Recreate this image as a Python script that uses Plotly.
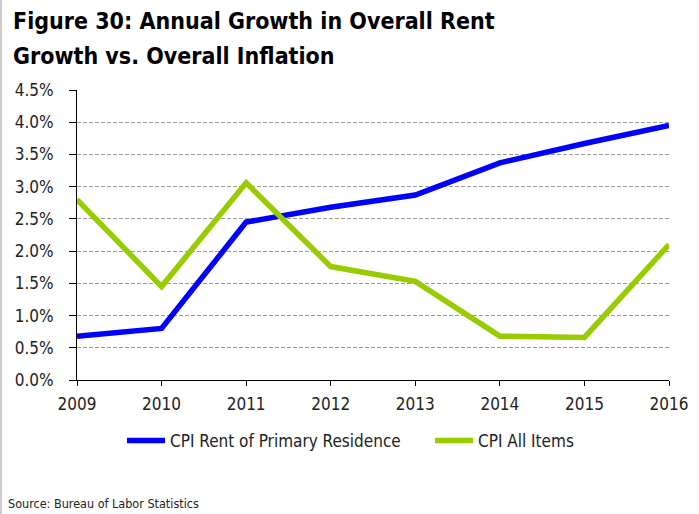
import plotly.graph_objects as go

years = [2009, 2010, 2011, 2012, 2013, 2014, 2015, 2016]
rent = [0.68, 0.80, 2.45, 2.68, 2.87, 3.37, 3.67, 3.95]
all_items = [2.80, 1.45, 3.06, 1.76, 1.53, 0.68, 0.66, 2.10]
y_ticks = [0, 0.5, 1.0, 1.5, 2.0, 2.5, 3.0, 3.5, 4.0, 4.5]
y_labels = ["0.0%", "0.5%", "1.0%", "1.5%", "2.0%", "2.5%", "3.0%", "3.5%", "4.0%", "4.5%"]
title_lines = ["Figure 30: Annual Growth in Overall Rent", "Growth vs. Overall Inflation"]
source = "Source: Bureau of Labor Statistics"

FONT = "DejaVu Sans Condensed, sans-serif"
TXT = "#222222"

# plot area in page pixels: x 77..669, y 90..380
L, R, T, B = 77, 669, 90, 380
W, H = 699, 514
def px(x):
    return (x - L) / (R - L)
def py(y):
    return (B - y) / (B - T)

fig = go.Figure()
fig.add_trace(go.Scatter(x=years, y=rent, mode="lines", name="CPI Rent of Primary Residence",
                         line=dict(color="#0000FF", width=5.5), legend="legend"))
fig.add_trace(go.Scatter(x=years, y=all_items, mode="lines", name="CPI All Items",
                         line=dict(color="#99CC00", width=5.5), legend="legend2"))

leg_common = dict(orientation="h", yanchor="middle", y=py(441), xanchor="left",
                  font=dict(family=FONT, size=17, color=TXT), itemwidth=38,
                  bgcolor="rgba(0,0,0,0)")

fig.update_layout(
    width=W, height=H,
    margin=dict(l=L, r=W - R, t=T, b=H - B),
    paper_bgcolor="white", plot_bgcolor="white",
    font=dict(family=FONT, color=TXT, size=17),
    showlegend=True,
    legend=dict(x=px(122), **leg_common),
    legend2=dict(x=px(430), **leg_common),
    xaxis=dict(range=[2009, 2016], tickvals=years, ticktext=[str(y) for y in years],
               showgrid=False, showline=True, linecolor="black", linewidth=1,
               ticks="outside", ticklen=5, tickcolor="black", zeroline=False,
               ticklabelstandoff=4,
               tickfont=dict(family=FONT, size=17, color=TXT)),
    yaxis=dict(range=[0, 4.5], tickvals=y_ticks, ticktext=y_labels,
               showgrid=True, gridcolor="#9a9a9a", griddash="4px,2px", gridwidth=1,
               showline=True, linecolor="black", linewidth=1,
               ticks="outside", ticklen=7, tickcolor="black", zeroline=False,
               ticklabelstandoff=12,
               tickfont=dict(family=FONT, size=17, color=TXT)),
    shapes=[dict(type="line", xref="paper", yref="paper", x0=px(1), x1=px(1),
                 y0=py(H + 5), y1=py(-5), line=dict(color="#cccccc", width=2))],
    annotations=[
        dict(text="<b>" + title_lines[0] + "</b>", xref="paper", yref="paper",
             x=px(11), y=py(21), xanchor="left", yanchor="middle", showarrow=False,
             font=dict(family=FONT, size=23, color="black")),
        dict(text="<b>" + title_lines[1] + "</b>", xref="paper", yref="paper",
             x=px(11), y=py(56), xanchor="left", yanchor="middle", showarrow=False,
             font=dict(family=FONT, size=23, color="black")),
        dict(text=source, xref="paper", yref="paper",
             x=px(6), y=py(503), xanchor="left", yanchor="middle", showarrow=False,
             font=dict(family=FONT, size=12.5, color=TXT)),
    ],
)

fig.write_html("out.html", config={"displayModeBar": False},
               post_script="document.body.style.margin='0';")
